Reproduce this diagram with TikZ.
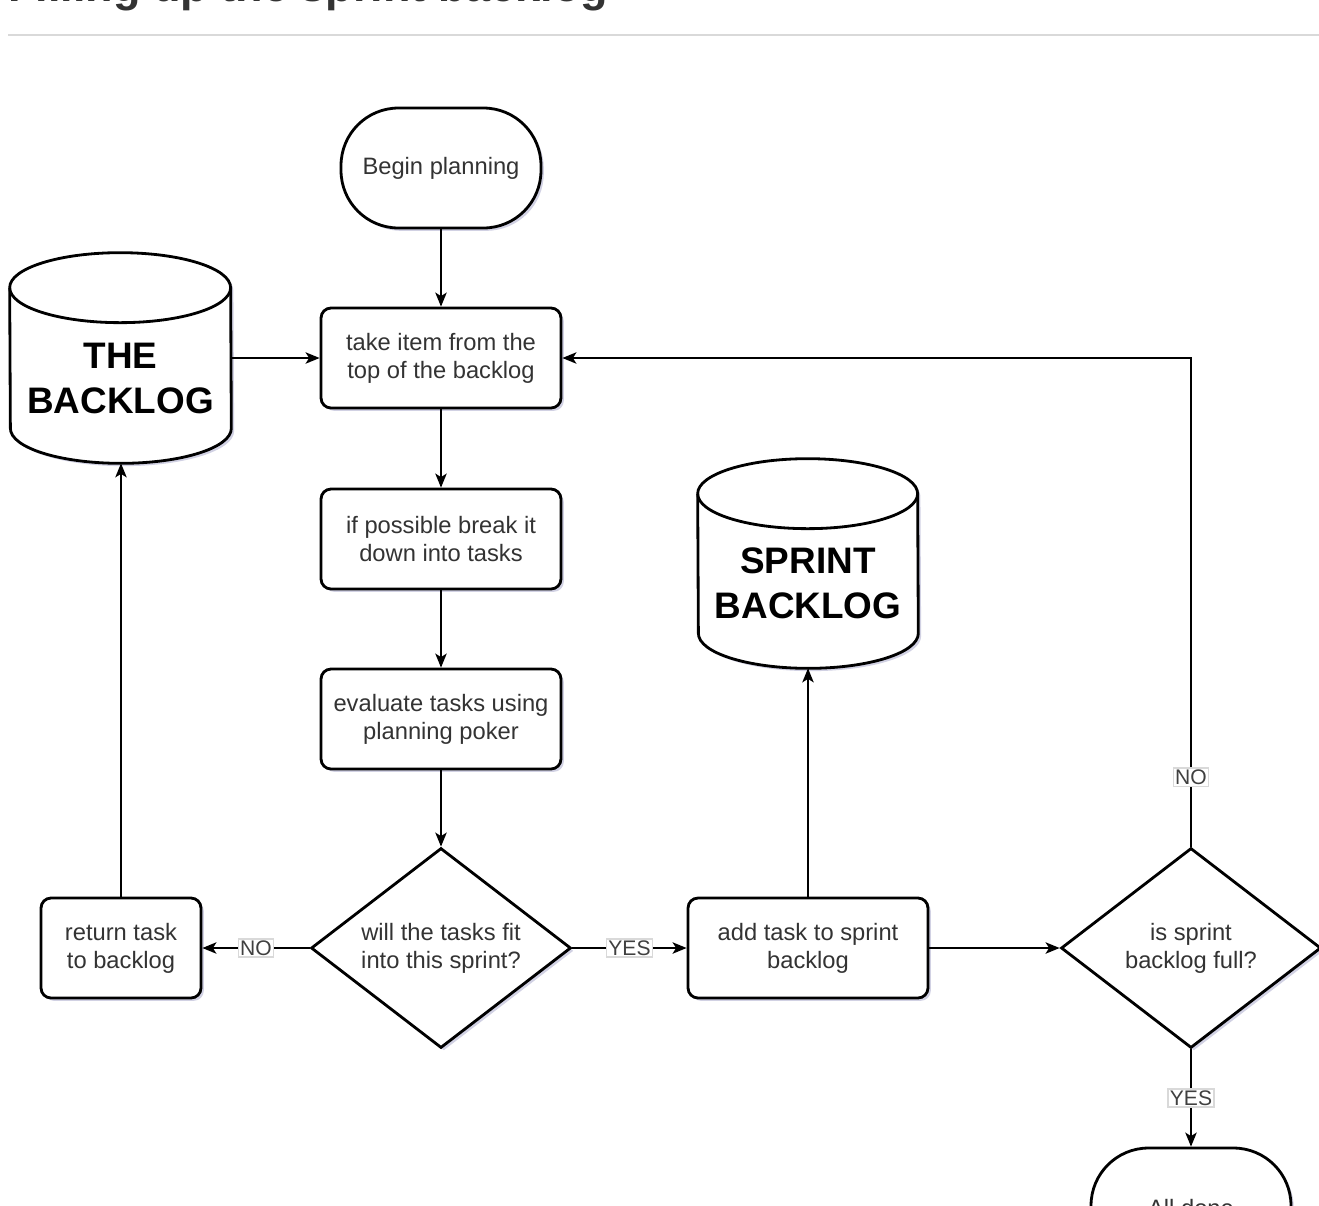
\documentclass[tikz,border=0pt]{standalone}
\usepackage{fontspec}
\setmainfont{Liberation Sans}
\usetikzlibrary{shapes.geometric,arrows.meta,shadows}
\begin{document}
\begin{tikzpicture}[x=0.02cm,y=-0.02cm,
  shd/.style={drop shadow={shadow xshift=1.6pt,shadow yshift=-1.6pt,opacity=0.18,fill=black!60!blue}},
  bodyfont/.style={font=\fontsize{13.5}{15.9}\selectfont,text=black!80},
  proc/.style={draw,line width=1.6pt,rounded corners=0.2cm,fill=white,shd,align=center,
    minimum width=4.8cm,minimum height=2cm,inner sep=0pt,bodyfont},
  term/.style={proc,rounded corners=1.15cm,minimum width=4cm,minimum height=2.4cm},
  dec/.style={draw,diamond,aspect=1.3,line width=1.6pt,fill=white,shd,align=center,
    minimum width=5.2cm,minimum height=4cm,inner sep=0pt,bodyfont},
  cylbox/.style={minimum width=4.42cm,minimum height=4.2cm,inner sep=0pt},
  cyltext/.style={align=center,inner sep=0pt,font=\fontsize{21}{25.6}\selectfont\bfseries},
  cylline/.style={line width=1.6pt,fill=white,shd},
  arr/.style={line width=0.9pt,-{Stealth[length=8pt,width=6.5pt,inset=2pt]}},
  lbl/.style={fill=white,draw=black!15,inner sep=1pt,font=\fontsize{12}{13}\selectfont,text=black!75}
]
\useasboundingbox (0,0) rectangle (1319,1205);
\clip (0,0) rectangle (1319,1205);

% title and rule
\node[anchor=base west,inner sep=0pt,font=\fontsize{25.6}{30}\selectfont\bfseries,text=black!80] (title) at (8,1) {Filling up the sprint backlog};
\draw[black!15,line width=1.2pt] (8,35) -- (1319,35);

% cylinders
\node[cylbox] (bl) at (120.5,358) {};
\draw[cylline] ([yshift=-0.7cm]bl.north west) arc[start angle=180,end angle=0,x radius=2.21cm,y radius=0.7cm]
  -- ([yshift=0.7cm]bl.south east) arc[start angle=0,end angle=-180,x radius=2.21cm,y radius=0.7cm] -- cycle;
\draw[line width=1.6pt] ([yshift=-0.7cm]bl.north west) arc[start angle=180,end angle=360,x radius=2.21cm,y radius=0.7cm];
\node[cyltext] (blt) at (120.5,378) {THE\\BACKLOG};

\node[cylbox,minimum width=4.4cm,minimum height=4.18cm] (sb) at (808,563.5) {};
\draw[cylline] ([yshift=-0.7cm]sb.north west) arc[start angle=180,end angle=0,x radius=2.2cm,y radius=0.7cm]
  -- ([yshift=0.7cm]sb.south east) arc[start angle=0,end angle=-180,x radius=2.2cm,y radius=0.7cm] -- cycle;
\draw[line width=1.6pt] ([yshift=-0.7cm]sb.north west) arc[start angle=180,end angle=360,x radius=2.2cm,y radius=0.7cm];
\node[cyltext] (sbt) at (808,583.5) {SPRINT\\BACKLOG};

% nodes
\node[term] (begin) at (441,168) {Begin planning};
\node[proc] (take) at (441,358) {take item from the\\top of the backlog};
\node[proc] (brk) at (441,539) {if possible break it\\down into tasks};
\node[proc] (eval) at (441,719) {evaluate tasks using\\planning poker};
\node[dec] (fit) at (441,948) {will the tasks fit\\into this sprint?};
\node[proc,minimum width=3.2cm] (ret) at (121,948) {return task\\to backlog};
\node[proc] (add) at (808,948) {add task to sprint\\backlog};
\node[dec] (full) at (1191,948) {is sprint\\backlog full?};
\node[term] (done) at (1191,1208) {All done};

% connectors
\draw[arr] (begin) -- (take);
\draw[arr] (bl) -- (take);
\draw[arr] (take) -- (brk);
\draw[arr] (brk) -- (eval);
\draw[arr] (eval) -- (fit);
\draw[arr] (fit) -- node[lbl] {NO} (ret);
\draw[arr] (ret.north) -- (ret.north |- bl.south);
\draw[arr] (fit) -- node[lbl] {YES} (add);
\draw[arr] (add.north) -- (add.north |- sb.south);
\draw[arr] (add) -- (full);
\draw[arr] (full.north) |- node[lbl,pos=0.071] {NO} (take.east);
\draw[arr] (full) -- node[lbl] {YES} (done);
\end{tikzpicture}
\end{document}
